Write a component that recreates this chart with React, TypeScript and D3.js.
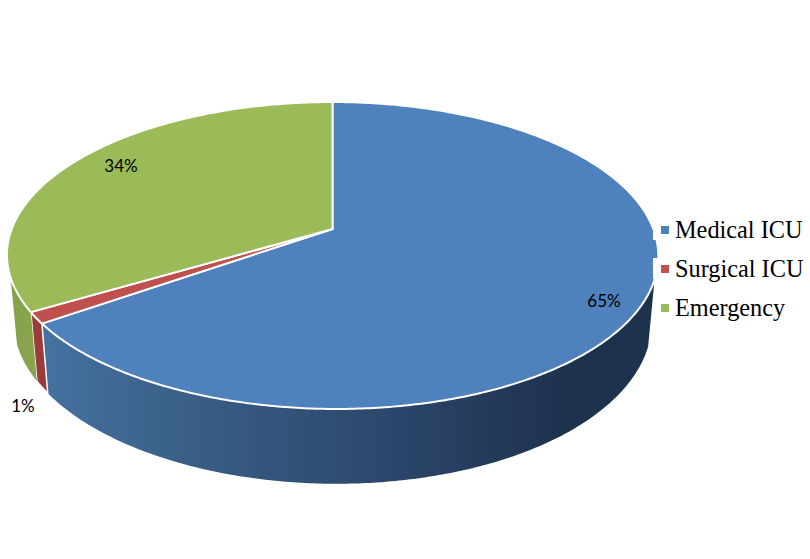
import React from "react";
import * as d3 from "d3";

const categories = ["Medical ICU", "Surgical ICU", "Emergency"];
const shares = [65.3, 1.2, 33.5];
const percentLabels = ["65%", "1%", "34%"];
const colors = ["#4f81bd", "#c0504d", "#9bbb59"];
const blueSideStops = [
  [0, "#44719f"], [0.3, "#36597f"], [0.6, "#2a4468"], [0.85, "#1d324d"], [1, "#1d324d"],
] as const;
const labelPos = [[604, 303], [23, 408], [121, 168]];
const legendY = [232, 271, 310];
const markerY = [230, 269, 308];

const W = 810, H = 559;
const apexX = 332.5, apexY = 229;
const k = -0.1726, a = 148.9, c = 320.8, skew = 4;

// Perspective projection of the unit disc onto the top face; angle is clockwise from 12 o'clock.
function topPt(t: number): [number, number] {
  const u = Math.sin(t), v = -Math.cos(t);
  const w = 1 + k * v;
  const lean = v > 0 ? skew * v * v : 0;
  return [apexX + (c * u) / w + lean, apexY + (a * v) / w];
}
function botPt(t: number): [number, number] {
  const [x, y] = topPt(t);
  return [apexX + (x - apexX) * 0.98, apexY + 64 + (y - apexY) * 1.06];
}
const line = d3.line();

function rim(fn: (t: number) => [number, number], t0: number, t1: number) {
  const n = Math.max(2, Math.ceil(Math.abs(t1 - t0) / 0.01));
  return d3.range(n + 1).map((i) => fn(t0 + ((t1 - t0) * i) / n));
}

export default function App() {
  const arcs = d3.pie<number>().sort(null).value((d) => d)(shares);
  const minAngle = Math.PI * 0.604;
  const maxAngle = Math.PI * 1.4;
  const sideFills = ["url(#blueSide)", "#9c3c3a", "url(#greenSide)"];
  const strokes = ["none", "#fff", "none"];
  return (
    <svg width={W} height={H} style={{ position: "absolute", left: 0, top: 0, background: "#fff" }}>
      <defs>
        <linearGradient id="blueSide" gradientUnits="userSpaceOnUse" x1={48} x2={655} y1={0} y2={0}>
          {blueSideStops.map(([o, col]) => (
            <stop key={o} offset={o} stopColor={col} />
          ))}
        </linearGradient>
        <linearGradient id="greenSide" gradientUnits="userSpaceOnUse" x1={8} x2={38} y1={0} y2={0}>
          <stop offset={0} stopColor="#84a04b" />
          <stop offset={1} stopColor="#8aa550" />
        </linearGradient>
      </defs>
      {arcs.map((d, i) => {
        const t0 = Math.max(d.startAngle, minAngle);
        const t1 = Math.min(d.endAngle, maxAngle);
        if (t1 <= t0) return null;
        const pts = [...rim(topPt, t0, t1), ...rim(botPt, t1, t0)];
        return (
          <path key={i} d={line(pts) + "Z"} fill={sideFills[i]} stroke={strokes[i]} strokeWidth={1.5} strokeLinejoin="round" />
        );
      })}
      {arcs.map((d, i) => {
        const pts = [[apexX, apexY] as [number, number], ...rim(topPt, d.startAngle, d.endAngle)];
        return <path key={i} d={line(pts) + "Z"} fill={colors[i]} stroke="#fff" strokeWidth={2} strokeLinejoin="round" />;
      })}
      <rect x={653} y={216} width={16} height={24} fill="#fff" />
      <rect x={653} y={258} width={16} height={21} fill="#fff" />
      {percentLabels.map((s, i) => (
        <text key={s} x={labelPos[i][0]} y={labelPos[i][1]} textAnchor="middle" dominantBaseline="middle"
          fontFamily="Lato, 'Open Sans', sans-serif" fontSize={17} fill="#000">{s}</text>
      ))}
      {categories.map((s, i) => (
        <g key={s}>
          <rect x={661} y={markerY[i] - 4} width={8} height={8} fill={colors[i]} />
          <text x={675} y={legendY[i]} dominantBaseline="middle" fontFamily="'Liberation Serif', serif" fontSize={24.3} fill="#000">{s}</text>
        </g>
      ))}
    </svg>
  );
}
